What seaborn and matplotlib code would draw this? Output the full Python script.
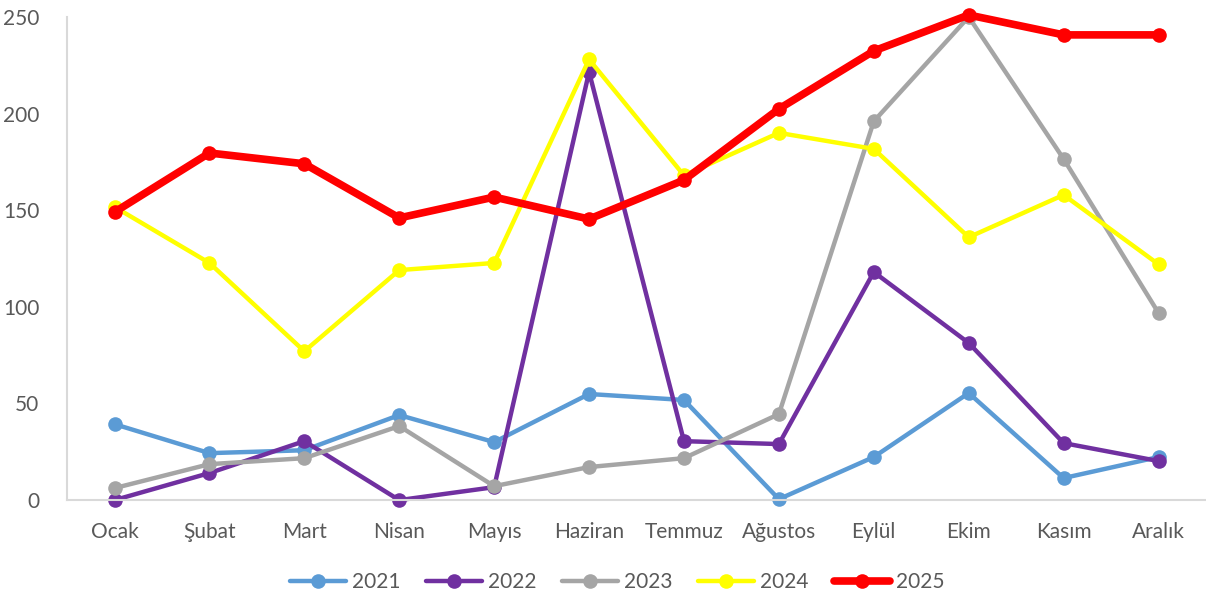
import numpy as np
import pandas as pd
import matplotlib
matplotlib.use("Agg")
import matplotlib.pyplot as plt
import seaborn as sns

months = ["Ocak", "Şubat", "Mart", "Nisan", "Mayıs", "Haziran",
          "Temmuz", "Ağustos", "Eylül", "Ekim", "Kasım", "Aralık"]

y2021 = [39.3, 24.3, 25.8, 44.0, 30.0, 54.9, 51.8, 0.5, 22.3, 55.4, 11.4, 22.3]
y2022 = [0.0, 14.0, 30.5, 0.0, 6.7, 221.5, 30.5, 29.0, 118.0, 81.3, 29.5, 20.2]
y2023 = [6.2, 18.6, 21.7, 38.3, 7.2, 17.1, 21.7, 44.5, 196.0, 250.0, 176.5, 96.8]
y2024 = [151.7, 122.7, 77.0, 119.0, 122.7, 228.0, 168.0, 190.0, 181.7, 136.0, 157.9, 122.0]
y2025 = [149.0, 179.6, 174.0, 146.0, 156.8, 145.4, 165.6, 202.4, 232.4, 251.0, 240.7, 240.7]

series = {"2021": y2021, "2022": y2022, "2023": y2023, "2024": y2024, "2025": y2025}
colors = {"2021": "#5B9BD5", "2022": "#7030A0", "2023": "#A5A5A5",
          "2024": "#FFFF00", "2025": "#FF0000"}
widths = {"2021": 3.2, "2022": 3.2, "2023": 3.2, "2024": 3.2, "2025": 5.5}

sns.set_style("white")
plt.rcParams["font.family"] = ["Lato", "DejaVu Sans"]

fig = plt.figure(figsize=(12.06, 6.04), dpi=100)
ax = fig.add_axes([0.0556, 0.172, 0.9444, 0.800])

x = np.arange(len(months))
for name, vals in series.items():
    df = pd.DataFrame({"x": x, "y": vals})
    sns.lineplot(data=df, x="x", y="y", ax=ax, color=colors[name],
                 linewidth=widths[name], marker="o", markersize=10.5,
                 markeredgewidth=0, label=name, clip_on=False, sort=False)

ax.set_xlim(-0.5, len(months) - 0.5)
ax.set_ylim(0, 250)
ax.set_yticks(range(0, 251, 50))
ax.set_xticks(x)
ax.set_xticklabels(months)
ax.set_xlabel("")
ax.set_ylabel("")
ax.tick_params(axis="both", length=0, labelsize=15, colors="#595959")
ax.tick_params(axis="x", pad=16)
ax.tick_params(axis="y", pad=20)
for s in ["top", "right"]:
    ax.spines[s].set_visible(False)
for s in ["left", "bottom"]:
    ax.spines[s].set_color("#D9D9D9")
    ax.spines[s].set_linewidth(1.5)

ax.legend(loc="center", bbox_to_anchor=(0.483, -0.17), ncol=5, frameon=False,
          fontsize=15, handlelength=2.7, handletextpad=0.3,
          columnspacing=1.2, labelcolor="#595959")

fig.savefig("out.png", dpi=100)
